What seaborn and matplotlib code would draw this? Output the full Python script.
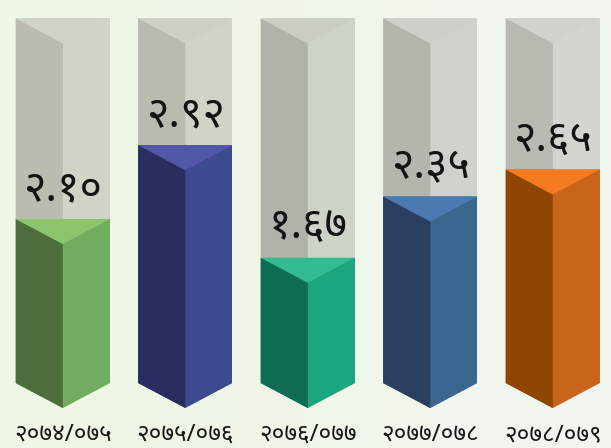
import matplotlib
matplotlib.use('Agg')
import matplotlib.pyplot as plt
import numpy as np
import pandas as pd
import seaborn as sns
from matplotlib.patches import Polygon

years = ['२०७४/०७५', '२०७५/०७६', '२०७६/०७७', '२०७७/०७८', '२०७८/०७९']
values = [2.10, 2.92, 1.67, 2.35, 2.65]
value_labels = ['२.१०', '२.९२', '१.६७', '२.३५', '२.६५']
track_max = 4.33

left_colors = ['#4C6E3B', '#2A2D60', '#0F6D52', '#2A3F5E', '#8E4600']
right_colors = ['#72AC5F', '#3E4A90', '#1AA67F', '#3A6690', '#C8651A']
top_colors = ['#8CC56E', '#5157A6', '#33BC90', '#4A7AAF', '#F47B20']
track_left = ['#B9BCAF', '#B8BCB0', '#AEB4A9', '#B2B7AD', '#B8BAB2']
track_right = ['#D0D3C6', '#CFD4C8', '#CCD4C8', '#CDD2CA', '#D3D5CE']
track_top = ['#CFD2C6', '#CDD1C5', '#C8CEC4', '#CBD0C8', '#D0D2CB']

bar_w = 0.77
drop = 0.278  # depth of the V, in value units

plt.rcParams['font.family'] = ['Noto Sans', 'DejaVu Sans']

df = pd.DataFrame({'year': years, 'value': values, 'track': track_max})

fig = plt.figure(figsize=(6.11, 4.48), dpi=100)
ax = fig.add_axes([0, 30 / 448, 1, 418 / 448])
ax.patch.set_alpha(0)

# pale background wash
bg = fig.add_axes([0, 0, 1, 1], zorder=-1)
bg.imshow([[0, 1]], extent=(0, 1, 0, 1), aspect='auto', interpolation='bicubic',
          cmap=matplotlib.colors.LinearSegmentedColormap.from_list('bg', ['#EEF6E5', '#F1F6EF']))
bg.axis('off')


def clip_hex(bars, tops):
    for i, (bar, top) in enumerate(zip(bars, tops)):
        w = bar_w / 2
        hexa = Polygon([(i - w, top), (i + w, top), (i + w, drop), (i, 0), (i - w, drop)],
                       transform=ax.transData)
        bar.set_clip_path(hexa)


def draw_faces(tops, left, top_c, z):
    w = bar_w / 2
    for i, top in enumerate(tops):
        ax.add_patch(Polygon([(i - w, top), (i, top - drop), (i, 0), (i - w, drop)],
                             fc=left[i], ec='none', zorder=z))
        ax.add_patch(Polygon([(i - w, top), (i + w, top), (i, top - drop)],
                             fc=top_c[i], ec='none', zorder=z))


# empty tracks behind, coloured bars in front
sns.barplot(data=df, x='year', y='track', hue='year', palette=track_right, width=bar_w,
            dodge=False, legend=False, saturation=1, ax=ax, zorder=1)
clip_hex(list(ax.patches), df['track'])
draw_faces(df['track'], track_left, track_top, 1.5)

n = len(ax.patches)
sns.barplot(data=df, x='year', y='value', hue='year', palette=right_colors, width=bar_w,
            dodge=False, legend=False, saturation=1, ax=ax, zorder=2)
clip_hex(list(ax.patches)[n:], df['value'])
draw_faces(df['value'], left_colors, top_colors, 2.5)

for i, v in enumerate(values):
    ax.text(i, v + 0.33, value_labels[i], ha='center', va='center', fontsize=31,
            color='#141414', zorder=5)

ax.set_xlim(-0.513, 4.475)
ax.set_ylim(-10 / 90, 408 / 90)
ax.set_xlabel('')
ax.set_ylabel('')
ax.set_yticks([])
ax.set_xticks(range(len(years)))
ax.set_xticklabels(years, fontsize=17.5, color='#1A1A1A')
ax.tick_params(axis='x', length=0, pad=3.5)
sns.despine(ax=ax, left=True, bottom=True)

fig.savefig('out.png', dpi=100)
